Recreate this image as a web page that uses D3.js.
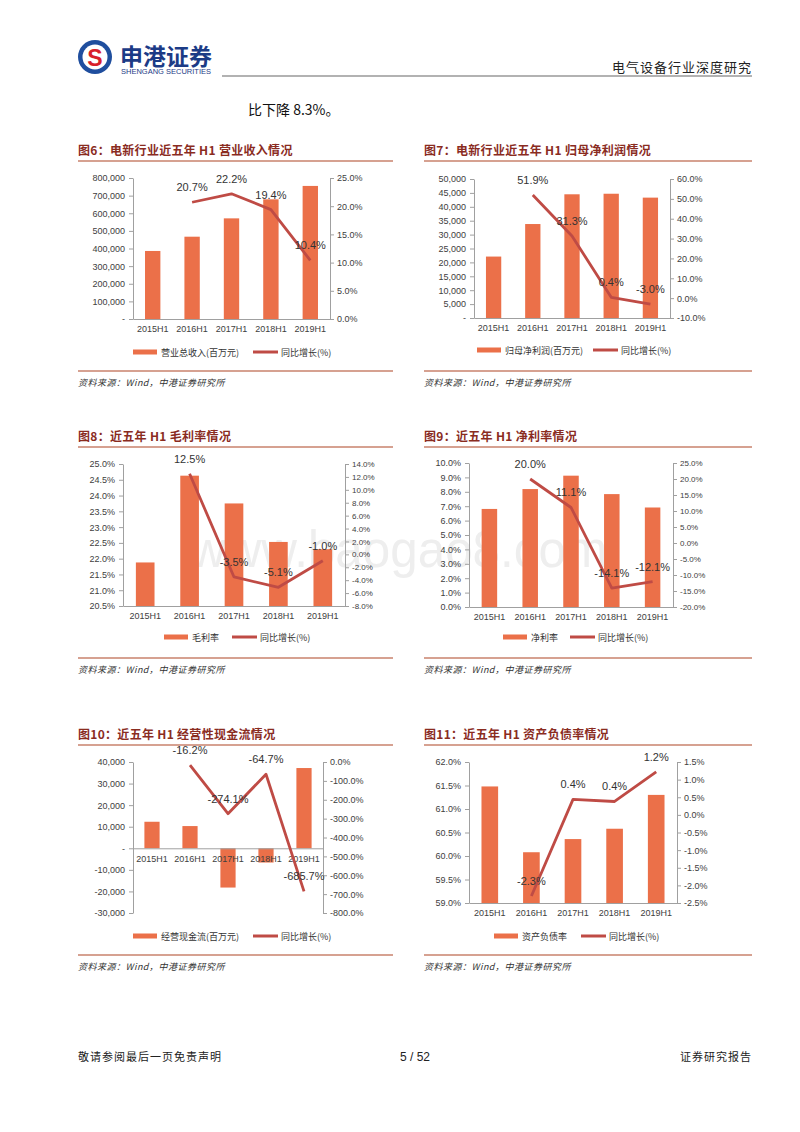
<!DOCTYPE html>
<html lang="zh">
<head>
<meta charset="UTF-8">
<title>电气设备行业深度研究 - 第5页</title>
<script src="https://cdnjs.cloudflare.com/ajax/libs/d3/7.8.5/d3.min.js"></script>
<style>
  html, body { margin: 0; padding: 0; background: #fff; }
  svg { display: block; }
  .num { font-family: "Liberation Sans", Arial, sans-serif; }
  .cjk { font-family: "Noto Sans CJK SC", "Noto Sans", sans-serif; }
</style>
</head>
<body>
<svg id="page" width="800" height="1132"></svg>
<script>
    // ---- data ----
    const categories = ["2015H1", "2016H1", "2017H1", "2018H1", "2019H1"];

    const revenue = [386000, 467000, 571000, 679000, 755000];
    const revenueYoY = [null, 20.7, 22.2, 19.4, 10.4];

    const netProfit = [22100, 33800, 44500, 44700, 43300];
    const netProfitYoY = [null, 51.9, 31.3, 0.4, -3.0];

    const grossMargin = [21.88, 24.63, 23.75, 22.53, 22.30];
    const grossMarginYoY = [null, 12.5, -3.5, -5.1, -1.0];

    const netMargin = [6.81, 8.19, 9.12, 7.84, 6.91];
    const netMarginYoY = [null, 20.0, 11.1, -14.1, -12.1];

    const opCashFlow = [12300, 10300, -18200, -6600, 37200];
    const opCashFlowYoY = [null, -16.2, -274.1, -64.7, -685.7];

    const debtRatio = [61.48, 60.08, 60.36, 60.58, 61.30];
    const debtRatioYoY = [null, -2.3, 0.44, 0.38, 1.22];

    // tick values
    const revenueTicks = d3.range(0, 800001, 100000);
    const revenueYoYTicks = d3.range(0, 25.01, 5);
    const netProfitTicks = d3.range(0, 50001, 5000);
    const netProfitYoYTicks = d3.range(-10, 60.01, 10);
    const grossMarginTicks = d3.range(20.5, 25.01, 0.5);
    const grossMarginYoYTicks = d3.range(-8, 14.01, 2);
    const netMarginTicks = d3.range(0, 10.01, 1);
    const netMarginYoYTicks = d3.range(-20, 25.01, 5);
    const opCashFlowTicks = d3.range(-30000, 40001, 10000);
    const opCashFlowYoYTicks = d3.range(-800, 0.01, 100);
    const debtRatioTicks = d3.range(59, 62.01, 0.5);
    const debtRatioYoYTicks = d3.range(-2.5, 1.51, 0.5);

    const source = "资料来源：Wind，中港证券研究所";

    // ---- styles ----
    const barColor = "#EB7049";
    const lineColor = "#BF4B45";
    const titleColor = "#8A2C1F";
    const ruleColor = "#C9826C";
    const axisColor = "#A0A0A0";
    const textColor = "#404040";

    const loc = d3.formatLocale({decimal: ".", thousands: ",", grouping: [3], currency: ["", ""], minus: "-"});
    const thousands = v => v === 0 ? "-" : loc.format(",")(v);
    const pct = v => loc.format(".1f")(v) + "%";

    const svg = d3.select("#page");
    svg.append("rect").attr("width", 800).attr("height", 1132).attr("fill", "#fff");

    // ---- page header ----
    const logo = svg.append("g");
    logo.append("circle").attr("cx", 95).attr("cy", 57).attr("r", 17).attr("fill", "#1F4E9E");
    logo.append("circle").attr("cx", 95).attr("cy", 57).attr("r", 12.5).attr("fill", "#fff");
    logo.append("text").attr("x", 95).attr("y", 65.5).attr("text-anchor", "middle")
        .attr("class", "num").attr("font-size", 23).attr("font-weight", "bold")
        .attr("fill", "#D8202A").text("S");
    logo.append("text").attr("x", 120).attr("y", 65).attr("class", "cjk")
        .attr("font-size", 23).attr("font-weight", "bold").attr("fill", "#1C3B86").text("申港证券");
    logo.append("text").attr("x", 121).attr("y", 74).attr("class", "num")
        .attr("font-size", 7).attr("fill", "#1C3B86")
        .attr("textLength", 90).attr("lengthAdjust", "spacingAndGlyphs").text("SHENGANG SECURITIES");

    svg.append("line").attr("x1", 222).attr("x2", 752).attr("y1", 76).attr("y2", 76)
        .attr("stroke", "#666").attr("stroke-width", 1.2);
    svg.append("text").attr("x", 752).attr("y", 72).attr("text-anchor", "end")
        .attr("class", "cjk").attr("font-size", 13).attr("letter-spacing", 1)
        .attr("fill", "#222").text("电气设备行业深度研究");

    svg.append("text").attr("x", 248).attr("y", 115).attr("class", "cjk")
        .attr("font-size", 14).attr("fill", "#111").text("比下降 8.3%。");

    // watermark
    svg.append("text").attr("x", 190).attr("y", 567).attr("class", "num")
        .attr("font-size", 52).attr("fill", "#EEEEEE")
        .attr("textLength", 417).attr("lengthAdjust", "spacingAndGlyphs").text("www.baogao8.com");

    // ---- chart drawing ----
    function drawChart(c) {
        const g = svg.append("g");

        // title & rules
        g.append("text").attr("x", c.left).attr("y", c.titleY).attr("class", "cjk")
            .attr("font-size", 12).attr("font-weight", "bold").attr("letter-spacing", 0.3)
            .attr("fill", titleColor).text(c.title);
        g.append("line").attr("x1", c.left).attr("x2", c.right).attr("y1", c.titleY + 6).attr("y2", c.titleY + 6)
            .attr("stroke", ruleColor).attr("stroke-width", 1.3);
        g.append("line").attr("x1", c.left).attr("x2", c.right).attr("y1", c.sourceY).attr("y2", c.sourceY)
            .attr("stroke", ruleColor).attr("stroke-width", 1.3);
        g.append("text").attr("x", c.left).attr("y", c.sourceY + 15).attr("class", "cjk")
            .attr("font-size", 9).attr("font-style", "italic").attr("letter-spacing", 0.5)
            .attr("fill", "#333").text(source);

        const x = d3.scaleBand().domain(categories).range([c.x0, c.x1])
            .paddingInner(c.pad).paddingOuter(c.pad / 2);
        const yL = d3.scaleLinear().domain(c.leftDomain).range([c.yBot, c.yTop]);
        const yR = d3.scaleLinear().domain(c.rightDomain).range([c.yBot, c.yTop]);

        // bars
        g.append("g").selectAll("rect").data(c.bars).join("rect")
            .attr("x", (d, i) => x(categories[i]))
            .attr("width", x.bandwidth())
            .attr("y", d => yL(Math.max(d, c.barBase)))
            .attr("height", d => Math.abs(yL(d) - yL(c.barBase)))
            .attr("fill", barColor);

        // axes
        const styleAxis = (sel, size) => {
            sel.select(".domain").attr("stroke", axisColor);
            sel.selectAll(".tick line").attr("stroke", axisColor);
            sel.selectAll(".tick text").attr("fill", textColor)
                .attr("font-family", "Liberation Sans, Arial, sans-serif").attr("font-size", size);
        };
        g.append("g").attr("transform", `translate(${c.x0},0)`)
            .call(d3.axisLeft(yL).tickValues(c.leftTicks).tickFormat(c.leftFmt).tickSize(4).tickSizeOuter(0).tickPadding(4))
            .call(s => styleAxis(s, c.leftFont || 9));
        g.append("g").attr("transform", `translate(${c.x1},0)`)
            .call(d3.axisRight(yR).tickValues(c.rightTicks).tickFormat(c.rightFmt).tickSize(4).tickSizeOuter(0).tickPadding(3))
            .call(s => styleAxis(s, c.rightFont || 9));
        const baseY = yL(c.axisAt);
        g.append("g").attr("transform", `translate(0,${baseY})`)
            .call(d3.axisBottom(x).tickSize(0).tickSizeOuter(0).tickPadding(7))
            .call(s => styleAxis(s, 9));

        // line
        const cx = i => x(categories[i]) + x.bandwidth() / 2;
        const pts = c.line.map((v, i) => ({v, i})).filter(d => d.v !== null);
        g.append("path").datum(pts)
            .attr("d", d3.line().x(d => cx(d.i)).y(d => yR(d.v)))
            .attr("fill", "none").attr("stroke", lineColor).attr("stroke-width", 2.8)
            .attr("stroke-linejoin", "round");
        g.append("g").selectAll("text").data(pts).join("text")
            .attr("x", d => cx(d.i)).attr("y", d => yR(d.v) - 11)
            .attr("text-anchor", "middle").attr("class", "num").attr("font-size", 11)
            .attr("fill", "#333").text(d => pct(d.v));

        // legend
        const lg = g.append("g").attr("transform", `translate(0,${c.legendY})`);
        lg.append("rect").attr("x", c.legBarX).attr("y", -2.5).attr("width", 24).attr("height", 5).attr("fill", barColor);
        lg.append("text").attr("x", c.legBarX + 28).attr("y", 3.5).attr("class", "cjk")
            .attr("font-size", 9).attr("fill", "#333").text(c.barName);
        lg.append("line").attr("x1", c.legLineX).attr("x2", c.legLineX + 25).attr("y1", 0).attr("y2", 0)
            .attr("stroke", lineColor).attr("stroke-width", 3);
        lg.append("text").attr("x", c.legLineX + 28).attr("y", 3.5).attr("class", "cjk")
            .attr("font-size", 9).attr("fill", "#333").text("同比增长(%)");
    }

    const L = {left: 78, right: 393};
    const R = {left: 424, right: 752};

    drawChart({...L, title: "图6：电新行业近五年 H1 营业收入情况", titleY: 155, sourceY: 371,
        x0: 133, x1: 330, yTop: 178, yBot: 319, pad: 0.61,
        bars: revenue, line: revenueYoY, barBase: 0, axisAt: 0,
        leftDomain: [0, 800000], leftTicks: revenueTicks, leftFmt: thousands,
        rightDomain: [0, 25], rightTicks: revenueYoYTicks, rightFmt: pct,
        legendY: 352, legBarX: 133, legLineX: 253, barName: "营业总收入(百万元)"});

    drawChart({...R, title: "图7：电新行业近五年 H1 归母净利润情况", titleY: 155, sourceY: 371,
        x0: 474, x1: 670, yTop: 179, yBot: 318, pad: 0.61,
        bars: netProfit, line: netProfitYoY, barBase: 0, axisAt: 0,
        leftDomain: [0, 50000], leftTicks: netProfitTicks, leftFmt: thousands,
        rightDomain: [-10, 60], rightTicks: netProfitYoYTicks, rightFmt: pct,
        legendY: 350, legBarX: 477, legLineX: 593, barName: "归母净利润(百万元)"});

    drawChart({...L, title: "图8：近五年 H1 毛利率情况", titleY: 441, sourceY: 658,
        x0: 123, x1: 345, yTop: 464, yBot: 606, pad: 0.58,
        bars: grossMargin, line: grossMarginYoY, barBase: 20.5, axisAt: 20.5,
        leftDomain: [20.5, 25], leftTicks: grossMarginTicks, leftFmt: pct,
        rightDomain: [-8, 14], rightTicks: grossMarginYoYTicks, rightFmt: pct, rightFont: 8,
        legendY: 637, legBarX: 164, legLineX: 232, barName: "毛利率"});

    drawChart({...R, title: "图9：近五年 H1 净利率情况", titleY: 441, sourceY: 658,
        x0: 469, x1: 673, yTop: 463, yBot: 607, pad: 0.62,
        bars: netMargin, line: netMarginYoY, barBase: 0, axisAt: 0,
        leftDomain: [0, 10], leftTicks: netMarginTicks, leftFmt: pct,
        rightDomain: [-20, 25], rightTicks: netMarginYoYTicks, rightFmt: pct, rightFont: 8,
        legendY: 637, legBarX: 503, legLineX: 570, barName: "净利率"});

    drawChart({...L, title: "图10：近五年 H1 经营性现金流情况", titleY: 739, sourceY: 955,
        x0: 133, x1: 323, yTop: 762, yBot: 913, pad: 0.6,
        bars: opCashFlow, line: opCashFlowYoY, barBase: 0, axisAt: 0,
        leftDomain: [-30000, 40000], leftTicks: opCashFlowTicks, leftFmt: thousands,
        rightDomain: [-800, 0], rightTicks: opCashFlowYoYTicks, rightFmt: pct,
        legendY: 936, legBarX: 133, legLineX: 253, barName: "经营现金流(百万元)"});

    drawChart({...R, title: "图11：近五年 H1 资产负债率情况", titleY: 739, sourceY: 955,
        x0: 469, x1: 677, yTop: 762, yBot: 903, pad: 0.6,
        bars: debtRatio, line: debtRatioYoY, barBase: 59, axisAt: 59,
        leftDomain: [59, 62], leftTicks: debtRatioTicks, leftFmt: pct,
        rightDomain: [-2.5, 1.5], rightTicks: debtRatioYoYTicks, rightFmt: pct,
        legendY: 936, legBarX: 494, legLineX: 581, barName: "资产负债率"});

    // ---- footer ----
    svg.append("text").attr("x", 78).attr("y", 1061).attr("class", "cjk")
        .attr("font-size", 11).attr("letter-spacing", 1).attr("fill", "#222").text("敬请参阅最后一页免责声明");
    svg.append("text").attr("x", 415).attr("y", 1061).attr("text-anchor", "middle").attr("class", "num")
        .attr("font-size", 12).attr("fill", "#222").text("5 / 52");
    svg.append("text").attr("x", 752).attr("y", 1061).attr("text-anchor", "end").attr("class", "cjk")
        .attr("font-size", 11).attr("letter-spacing", 1).attr("fill", "#222").text("证券研究报告");
</script>
</body>
</html>
